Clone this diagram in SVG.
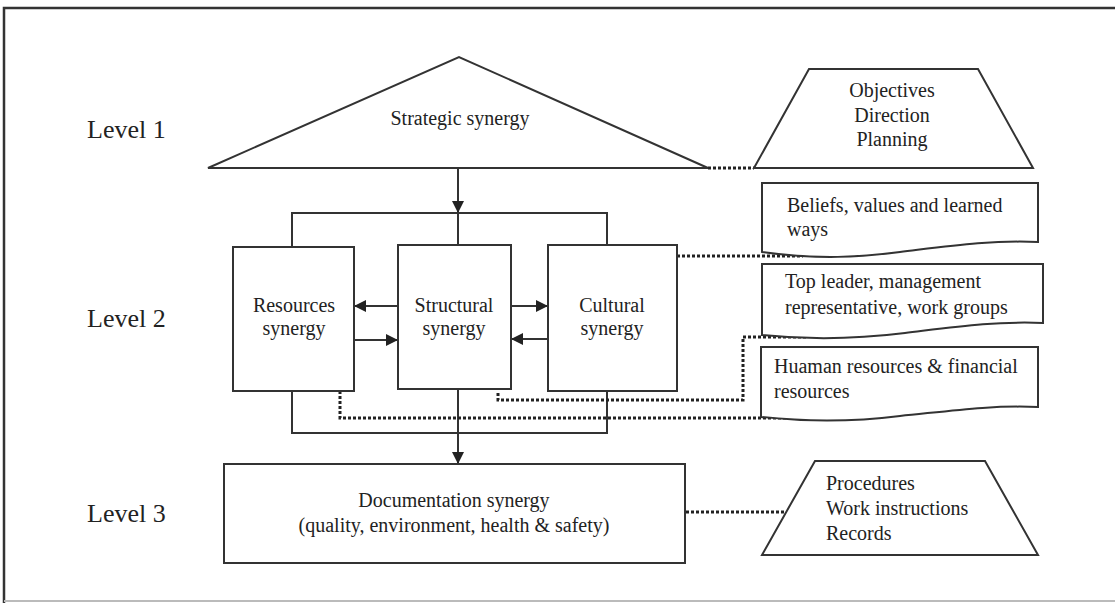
<svg xmlns="http://www.w3.org/2000/svg" width="1115" height="603" viewBox="0 0 1115 603">
  <defs>
    <marker id="arrow" viewBox="0 0 10 10" refX="10" refY="5" markerWidth="13" markerHeight="12" markerUnits="userSpaceOnUse" orient="auto">
      <path d="M0,0 L10,5 L0,10 Z" fill="#222"/>
    </marker>
    <style>
      .shape { fill: #fff; stroke: #333; stroke-width: 2; }
      .line { fill: none; stroke: #333; stroke-width: 2; }
      .dot { fill: none; stroke: #222; stroke-width: 3; stroke-dasharray: 3 2; }
      .t { font-family: "Liberation Serif", "Times New Roman", serif; font-size: 20px; fill: #222; }
      .lvl { font-family: "Liberation Serif", "Times New Roman", serif; font-size: 26px; fill: #222; }
      .c { text-anchor: middle; }
    </style>
  </defs>

  <rect width="1115" height="603" fill="#fff"/>
  <!-- frame -->
  <path d="M4,603 V8 H1115" fill="none" stroke="#333" stroke-width="2.5"/>
  <line x1="4" y1="601" x2="1115" y2="601" stroke="#bbb" stroke-width="2"/>

  <!-- level labels -->
  <g id="levels">
    <text class="lvl" x="87" y="138">Level 1</text>
    <text class="lvl" x="87" y="327">Level 2</text>
    <text class="lvl" x="87" y="522">Level 3</text>
  </g>

  <!-- connectors -->
  <g id="connectors">
    <line class="line" x1="458" y1="168" x2="458" y2="213" marker-end="url(#arrow)"/>
    <path class="line" d="M292,247 V213 H607 V245 M458,213 V245"/>
    <path class="line" d="M292,391 V433 H607 V391"/>
    <line class="line" x1="458" y1="389" x2="458" y2="464" marker-end="url(#arrow)"/>
    <line class="line" x1="398" y1="306" x2="354" y2="306" marker-end="url(#arrow)"/>
    <line class="line" x1="354" y1="340" x2="398" y2="340" marker-end="url(#arrow)"/>
    <line class="line" x1="511" y1="306" x2="548" y2="306" marker-end="url(#arrow)"/>
    <line class="line" x1="548" y1="339" x2="511" y2="339" marker-end="url(#arrow)"/>
    <!-- dotted associations -->
    <line class="dot" x1="708" y1="168" x2="754" y2="168"/>
    <line class="dot" x1="677" y1="256" x2="803" y2="256"/>
    <path class="dot" d="M498,393 V400 H743 V337 H807"/>
    <path class="dot" d="M340,391 V418 H810"/>
    <line class="dot" x1="686" y1="512" x2="786" y2="512"/>
  </g>

  <!-- level 1 -->
  <g id="strategic">
    <polygon class="shape" points="208,168 459,57 708,168"/>
    <text class="t c" x="460" y="125">Strategic synergy</text>
  </g>
  <g id="objectives">
    <polygon class="shape" points="754,168 809,69 978,69 1033,168"/>
    <text class="t c" x="892" y="97">Objectives</text>
    <text class="t c" x="892" y="122">Direction</text>
    <text class="t c" x="892" y="146">Planning</text>
  </g>

  <!-- level 2 -->
  <g id="resources">
    <rect class="shape" x="233" y="247" width="121" height="144"/>
    <text class="t c" x="294" y="312">Resources</text>
    <text class="t c" x="294" y="335">synergy</text>
  </g>
  <g id="structural">
    <rect class="shape" x="398" y="245" width="113" height="144"/>
    <text class="t c" x="454" y="312">Structural</text>
    <text class="t c" x="454" y="335">synergy</text>
  </g>
  <g id="cultural">
    <rect class="shape" x="548" y="245" width="129" height="146"/>
    <text class="t c" x="612" y="312">Cultural</text>
    <text class="t c" x="612" y="335">synergy</text>
  </g>

  <g id="beliefs">
    <path class="shape" d="M762,183 H1038 V242 C990,240 950,246 900,252 C860,257 820,260 762,252 Z"/>
    <text class="t" x="787" y="212">Beliefs, values and learned</text>
    <text class="t" x="787" y="236">ways</text>
  </g>
  <g id="leaders">
    <path class="shape" d="M762,264 H1043 V323 C995,321 955,327 905,333 C865,338 820,341 762,335 Z"/>
    <text class="t" x="785" y="288">Top leader, management</text>
    <text class="t" x="785" y="314">representative, work groups</text>
  </g>
  <g id="human">
    <path class="shape" d="M761,347 H1038 V407 C990,405 950,411 900,416 C860,421 818,423 761,417 Z"/>
    <text class="t" x="774" y="373">Huaman resources &amp; financial</text>
    <text class="t" x="774" y="398">resources</text>
  </g>

  <!-- level 3 -->
  <g id="documentation">
    <rect class="shape" x="224" y="464" width="461" height="99"/>
    <text class="t c" x="454" y="507">Documentation synergy</text>
    <text class="t c" x="454" y="532">(quality, environment, health &amp; safety)</text>
  </g>
  <g id="procedures">
    <polygon class="shape" points="762,555 815,461 985,461 1038,555"/>
    <text class="t" x="826" y="490">Procedures</text>
    <text class="t" x="826" y="515">Work instructions</text>
    <text class="t" x="826" y="540">Records</text>
  </g>
</svg>
